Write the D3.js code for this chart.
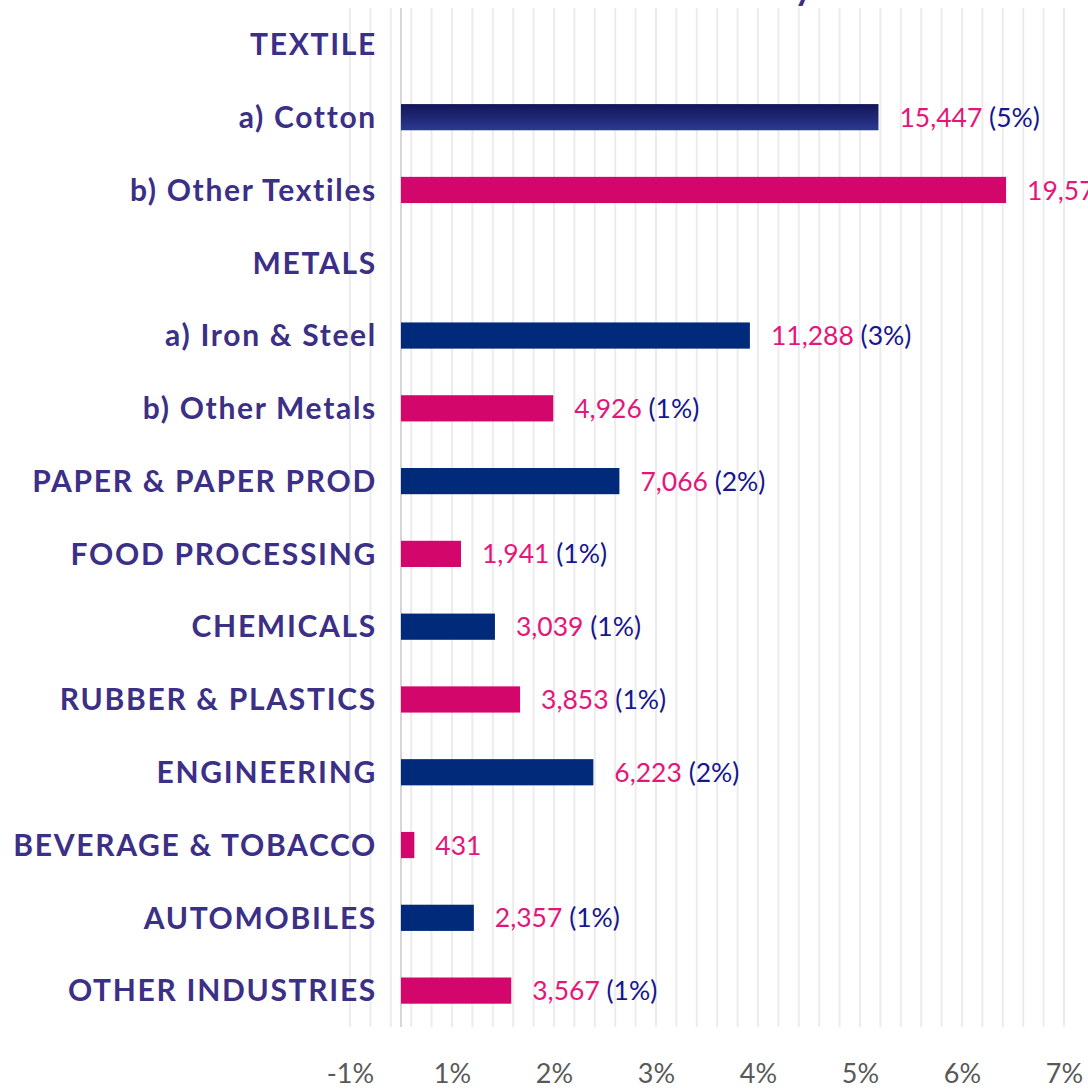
<!DOCTYPE html>
<meta charset="utf-8">
<style>
  body { margin: 0; background: #fff; }
  .cat { font: 700 30px Lato, sans-serif; fill: #3b2f86; letter-spacing: 1.7px; }
  .val { font: 400 26.5px Lato, sans-serif; }
  .axis text { font: 400 27px Lato, sans-serif; fill: #595959; }
  .grid line { stroke: #ececec; stroke-width: 2px; }
</style>
<svg width="1088" height="1089"></svg>
<script src="https://cdn.jsdelivr.net/npm/d3@7"></script>
<script>

  // rows, top to bottom (headers have no value)
  var categories = ["TEXTILE", "a) Cotton", "b) Other Textiles", "METALS", "a) Iron & Steel",
    "b) Other Metals", "PAPER & PAPER PROD", "FOOD PROCESSING", "CHEMICALS",
    "RUBBER & PLASTICS", "ENGINEERING", "BEVERAGE & TOBACCO", "AUTOMOBILES", "OTHER INDUSTRIES"];
  var values = [null, 15447, 19576, null, 11288, 4926, 7066, 1941, 3039, 3853, 6223, 431, 2357, 3567];
  var shares = ["", "5%", "6%", "", "3%", "1%", "2%", "1%", "1%", "1%", "2%", "", "1%", "1%"];
  var total = 330000;

  // axis: ticks sit on half percents, labels are rounded
  var tickValues = [-0.5, 0.5, 1.5, 2.5, 3.5, 4.5, 5.5, 6.5];
  var tickLabels = ["-1%", "1%", "2%", "3%", "4%", "5%", "6%", "7%"];

  var svg = d3.select("svg"),
    plotTop = 8, plotBottom = 1027;

  var x = d3.scaleLinear().domain([-0.5, 6.5]).range([350, 1064]);
  var y = d3.scaleBand().domain(categories).range([plotTop, plotBottom])
    .paddingInner(0.64).paddingOuter(0.32);

  var rows = categories.map(function (c, i) {
    return { name: c, value: values[i], share: shares[i], pct: values[i] == null ? null : values[i] / total * 100 };
  });

  // gradient for the first bar
  var grad = svg.append("defs").append("linearGradient")
    .attr("id", "navyGrad").attr("x1", 0).attr("y1", 0).attr("x2", 0).attr("y2", 1);
  grad.append("stop").attr("offset", "0%").attr("stop-color", "#131457");
  grad.append("stop").attr("offset", "100%").attr("stop-color", "#2b3a91");

  // title (cropped off the top)
  svg.append("text")
    .attr("x", 813).attr("y", 0)
    .attr("text-anchor", "end")
    .style("font", "700 36px Lato, sans-serif")
    .style("fill", "#3b2f86")
    .text("Industry");

  // minor gridlines every 0.2%
  svg.append("g").attr("class", "grid")
    .selectAll("line")
    .data(d3.range(0, 36).map(function (k) { return -0.5 + k * 0.2; }))
    .enter().append("line")
    .attr("x1", function (d) { return x(d); })
    .attr("x2", function (d) { return x(d); })
    .attr("y1", plotTop).attr("y2", plotBottom);

  // zero line
  svg.append("line")
    .attr("x1", x(0)).attr("x2", x(0))
    .attr("y1", plotTop).attr("y2", plotBottom)
    .style("stroke", "#d6d6d6").style("stroke-width", "2px");

  // x axis labels
  svg.append("g")
    .attr("class", "axis")
    .attr("transform", "translate(0," + 1064 + ")")
    .call(d3.axisBottom(x).tickValues(tickValues)
      .tickFormat(function (d, i) { return tickLabels[i]; })
      .tickSize(0).tickPadding(0))
    .call(function (g) { g.select(".domain").remove(); })
    .selectAll("text").attr("dy", "0.71em");

  // category labels
  svg.append("g")
    .selectAll("text")
    .data(rows)
    .enter().append("text")
    .attr("class", "cat")
    .attr("x", 377)
    .attr("y", function (d) { return y(d.name) + y.bandwidth() / 2; })
    .attr("dy", "0.36em")
    .attr("text-anchor", "end")
    .text(function (d) { return d.name; });

  var bars = rows.filter(function (d) { return d.value != null; });

  // bars alternate navy / pink
  svg.append("g")
    .selectAll("rect")
    .data(bars)
    .enter().append("rect")
    .attr("x", x(0))
    .attr("y", function (d) { return y(d.name); })
    .attr("width", function (d) { return x(d.pct) - x(0); })
    .attr("height", y.bandwidth())
    .style("fill", function (d, i) { return i === 0 ? "url(#navyGrad)" : (i % 2 ? "#d3066b" : "#012a7a"); });

  // value labels
  var lab = svg.append("g")
    .selectAll("text")
    .data(bars)
    .enter().append("text")
    .attr("class", "val")
    .attr("x", function (d) { return x(d.pct) + 21; })
    .attr("y", function (d) { return y(d.name) + y.bandwidth() / 2; })
    .attr("dy", "0.36em");

  lab.append("tspan")
    .style("fill", "#e5167a")
    .text(function (d) { return d3.format(",")(d.value); });

  lab.append("tspan")
    .style("fill", "#16168f")
    .text(function (d) { return d.share ? " (" + d.share + ")" : ""; });

</script>
